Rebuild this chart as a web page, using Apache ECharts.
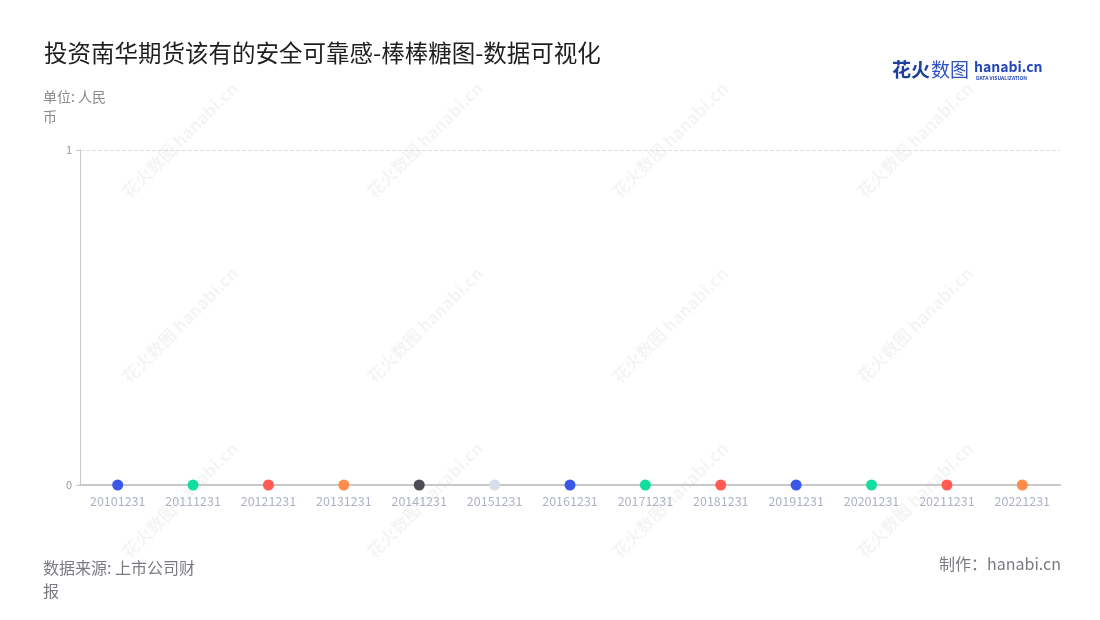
<!DOCTYPE html>
<html><head><meta charset="utf-8">
<script src="https://cdn.jsdelivr.net/npm/echarts@6/dist/echarts.min.js"></script>
<style>html,body{margin:0;padding:0;background:#fff}#c{width:1100px;height:620px}</style>
</head><body><div id="c"></div>
<script>
const categories = ['20101231','20111231','20121231','20131231','20141231','20151231','20161231','20171231','20181231','20191231','20201231','20211231','20221231'];
const values = [0,0,0,0,0,0,0,0,0,0,0,0,0];
const dotColors = ['#3a58e8','#12dea0','#ff5b52','#ff8c4b','#4c4c56','#d8dee9','#3a58e8','#12dea0','#ff5b52','#3a58e8','#12dea0','#ff5b52','#ff8c4b'];
const yTicks = [0, 1];

const font = '"Noto Sans CJK SC","Noto Sans",sans-serif';
const chart = echarts.init(document.getElementById('c'));

const wm = [];
const wmX = [180, 425, 670, 915];
const wmY = [140, 325, 500];
wmX.forEach(x => wmY.forEach(y => {
  wm.push({type:'text', x:x, y:y, rotation:Math.PI/4, z:-10, silent:true,
    style:{text:'花火数图 hanabi.cn', font:'bold 17px '+font, fill:'rgba(0,0,0,0.045)', align:'center', verticalAlign:'middle'}});
}));

chart.setOption({
  backgroundColor:'#fff',
  animation:false,
  title:{text:'投资南华期货该有的安全可靠感-棒棒糖图-数据可视化', left:39, top:36,
    textStyle:{fontFamily:font, fontSize:23.5, fontWeight:'normal', color:'#1f1f1f'}},
  grid:{left:80, right:40, top:150, bottom:135},
  xAxis:{type:'category', data:categories,
    axisLine:{lineStyle:{color:'#c8c8c8', width:2}},
    axisTick:{show:false},
    axisLabel:{color:'#adb3c2', fontSize:12.5, fontFamily:font, margin:10}},
  yAxis:{type:'value', min:0, max:1, interval:1,
    axisLine:{show:true, lineStyle:{color:'#c8c8c8', width:1}},
    axisTick:{show:true, length:4, lineStyle:{color:'#c8c8c8'}},
    axisLabel:{color:'#999', fontSize:11, fontFamily:font, margin:8},
    splitLine:{lineStyle:{type:'dashed', color:'#dedede'}}},
  series:[
    {type:'bar', data:values, barWidth:2, itemStyle:{color:(p)=>dotColors[p.dataIndex]}},
    {type:'scatter', data:values, symbolSize:11, itemStyle:{opacity:1, color:(p)=>dotColors[p.dataIndex]}}
  ],
  graphic: wm.concat([
    {type:'text', left:43, top:87, style:{text:'单位: 人民\n币', font:'14px '+font, fill:'#8a8a8a', lineHeight:20}},
    {type:'text', left:43, top:556, style:{text:'数据来源: 上市公司财\n报', font:'16px '+font, fill:'#7a7a82', lineHeight:23}},
    {type:'text', right:39, top:556, style:{text:'制作：hanabi.cn', font:'16px '+font, fill:'#7a7a82'}},
    {type:'text', left:892, top:60, style:{text:'花火', font:'bold 19px '+font, fill:'#1d3f9e'}},
    {type:'text', left:931, top:60, style:{text:'数图', font:'19px '+font, fill:'#2c52c4'}},
    {type:'text', left:974, top:60, style:{text:'hanabi.cn', font:'bold 14px '+font, fill:'#2346b8'}},
    {type:'text', left:976, top:76, style:{text:'DATA VISUALIZATION', font:'bold 5px '+font, fill:'#2346b8'}}
  ])
});
</script></body></html>
